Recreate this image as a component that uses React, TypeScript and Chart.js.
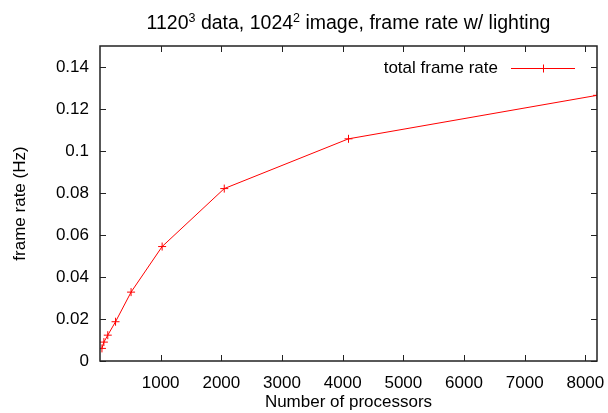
import React, { useEffect, useRef } from "react";
import { Chart, registerables } from "chart.js";

Chart.register(...registerables);

const TITLE_PARTS: [string, boolean][] = [
  ["1120", false],
  ["3", true],
  [" data, 1024", false],
  ["2", true],
  [" image, frame rate w/ lighting", false],
];
const X_LABEL = "Number of processors";
const Y_LABEL = "frame rate (Hz)";
const SERIES_LABEL = "total frame rate";

const PROCESSORS = [32, 64, 128, 256, 512, 1024, 2048, 4096, 8192];
const FRAME_RATE = [0.006, 0.009, 0.0123, 0.0187, 0.0328, 0.0545, 0.0821, 0.1058, 0.1265];

const X_TICKS = [1000, 2000, 3000, 4000, 5000, 6000, 7000, 8000];
const X_TICK_LABELS = ["1000", "2000", "3000", "4000", "5000", "6000", "7000", "8000"];
const Y_TICKS = [0, 0.02, 0.04, 0.06, 0.08, 0.1, 0.12, 0.14];
const Y_TICK_LABELS = ["0", "0.02", "0.04", "0.06", "0.08", "0.1", "0.12", "0.14"];

const FONT = "'Liberation Sans', Arial, Helvetica, sans-serif";
const RED = "#ff0000";

const frameBorderPlugin = {
  id: "frameBorder",
  afterDatasetsDraw(chart: any) {
    const { ctx, chartArea, scales } = chart;
    const { left, right, top, bottom } = chartArea;
    const len = 6;
    ctx.save();
    ctx.strokeStyle = "#222";
    ctx.lineWidth = 1;
    ctx.beginPath();
    X_TICKS.forEach((v) => {
      const px = Math.round(scales.x.getPixelForValue(v)) + 0.5;
      ctx.moveTo(px, bottom);
      ctx.lineTo(px, bottom - len);
      ctx.moveTo(px, top);
      ctx.lineTo(px, top + len);
    });
    Y_TICKS.forEach((v) => {
      const py = Math.round(scales.y.getPixelForValue(v)) + 0.5;
      ctx.moveTo(left, py);
      ctx.lineTo(left + len, py);
      ctx.moveTo(right, py);
      ctx.lineTo(right - len, py);
    });
    ctx.stroke();
    ctx.lineWidth = 1.5;
    ctx.strokeRect(left, top, right - left, bottom - top);

    // title with superscripts, centred over the plot area
    const big = `19.5px ${FONT}`;
    const small = `12.5px ${FONT}`;
    let total = 0;
    TITLE_PARTS.forEach(([t, sup]) => {
      ctx.font = sup ? small : big;
      total += ctx.measureText(t).width;
    });
    let tx = (left + right) / 2 - total / 2;
    ctx.fillStyle = "#000";
    ctx.textAlign = "left";
    ctx.textBaseline = "alphabetic";
    TITLE_PARTS.forEach(([t, sup]) => {
      ctx.font = sup ? small : big;
      ctx.fillText(t, tx, sup ? 22 : 29);
      tx += ctx.measureText(t).width;
    });

    // legend (inside plot, top right)
    const ds = chart.data.datasets[0];
    const ly = top + 22;
    const lineEnd = right - 22;
    const lineStart = lineEnd - 64;
    ctx.font = `17px ${FONT}`;
    ctx.fillStyle = "#000";
    ctx.textAlign = "right";
    ctx.textBaseline = "middle";
    ctx.fillText(ds.label, lineStart - 13, ly);
    ctx.strokeStyle = RED;
    ctx.lineWidth = 1;
    ctx.beginPath();
    ctx.moveTo(lineStart, ly + 0.5);
    ctx.lineTo(lineEnd, ly + 0.5);
    const cx = Math.round((lineStart + lineEnd) / 2);
    ctx.moveTo(cx + 0.5, ly - 3.5);
    ctx.lineTo(cx + 0.5, ly + 4.5);
    ctx.stroke();
    ctx.restore();
  },
};

export default function App() {
  const ref = useRef<HTMLCanvasElement>(null);
  useEffect(() => {
    if (!ref.current) return;
    const chart = new Chart(ref.current, {
      type: "line",
      data: {
        datasets: [
          {
            label: SERIES_LABEL,
            data: PROCESSORS.map((x, i) => ({ x, y: FRAME_RATE[i] })),
            borderColor: RED,
            backgroundColor: RED,
            borderWidth: 1,
            pointStyle: "cross",
            pointRadius: 4,
            pointBorderWidth: 1,
            pointBorderColor: RED,
            tension: 0,
            fill: false,
          },
        ],
      },
      options: {
        responsive: false,
        animation: false,
        devicePixelRatio: 1,
        layout: { padding: { left: 0, right: 11, top: 46, bottom: 0 } },
        plugins: {
          legend: { display: false },
          tooltip: { enabled: false },
          title: { display: false },
        },
        scales: {
          x: {
            type: "linear",
            min: 0,
            max: 8192,
            afterBuildTicks: (s: any) => {
              s.ticks = X_TICKS.map((v) => ({ value: v }));
            },
            afterFit: (s: any) => {
              s.height = 52;
              s.paddingLeft = 0;
              s.paddingRight = 0;
            },
            ticks: {
              color: "#000",
              font: { family: FONT, size: 17 },
              padding: 12,
              maxRotation: 0,
              autoSkip: false,
              callback: (v: any) => X_TICK_LABELS[X_TICKS.indexOf(v)] ?? "",
            },
            grid: { display: false, drawTicks: false },
            border: { display: false },
            title: {
              display: true,
              text: X_LABEL,
              color: "#000",
              font: { family: FONT, size: 17 },
              padding: { top: -3, bottom: 0 },
            },
          },
          y: {
            type: "linear",
            min: 0,
            max: 0.15,
            afterBuildTicks: (s: any) => {
              s.ticks = Y_TICKS.map((v) => ({ value: v }));
            },
            afterFit: (s: any) => {
              s.width = 100;
              s.paddingTop = 0;
              s.paddingBottom = 0;
            },
            ticks: {
              color: "#000",
              font: { family: FONT, size: 17 },
              padding: 11,
              autoSkip: false,
              callback: (v: any) => {
                const i = Y_TICKS.findIndex((t) => Math.abs(t - v) < 1e-9);
                return i >= 0 ? Y_TICK_LABELS[i] : "";
              },
            },
            grid: { display: false, drawTicks: false },
            border: { display: false },
            title: {
              display: true,
              text: Y_LABEL,
              color: "#000",
              font: { family: FONT, size: 17 },
              padding: { top: 10, bottom: 0 },
            },
          },
        },
      },
      plugins: [frameBorderPlugin],
    } as any);
    return () => chart.destroy();
  }, []);
  return (
    <div style={{ position: "fixed", left: 0, top: 0, width: 608, height: 413, background: "#fff" }}>
      <canvas ref={ref} width={608} height={413} style={{ display: "block" }} />
    </div>
  );
}
